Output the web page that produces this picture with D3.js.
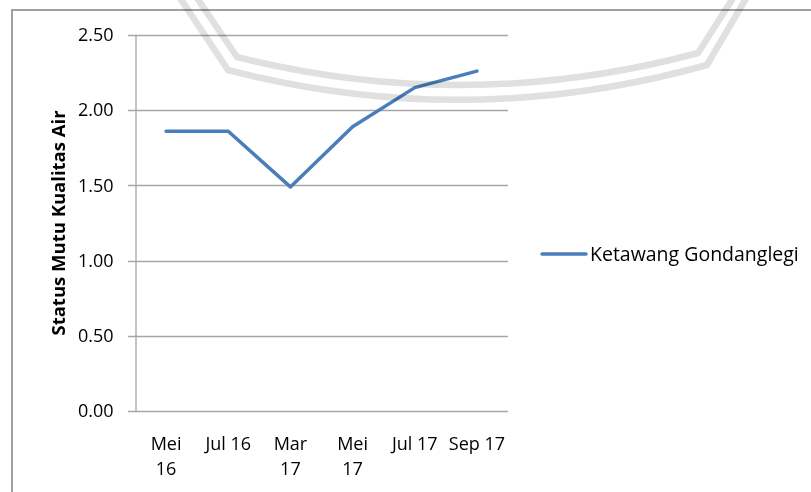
<!DOCTYPE html>
<html>
<head>
<meta charset="utf-8">
<script src="https://cdn.jsdelivr.net/npm/d3@7/dist/d3.min.js"></script>
<style>
  html, body { margin: 0; padding: 0; background: #fff; }
  svg { display: block; }
  text { font-family: "Open Sans", Calibri, sans-serif; fill: #000; }
</style>
</head>
<body>
<svg id="chart" width="811" height="492"></svg>
<script>
// Monthly water quality status, Ketawang Gondanglegi station
const categories = ["Mei 16", "Jul 16", "Mar 17", "Mei 17", "Jul 17", "Sep 17"];
const tickLines = [["Mei", "16"], ["Jul 16"], ["Mar", "17"], ["Mei", "17"], ["Jul 17"], ["Sep 17"]];
const values = [1.86, 1.86, 1.49, 1.89, 2.15, 2.26];
const yTicks = [0, 0.5, 1.0, 1.5, 2.0, 2.5];
const seriesName = "Ketawang Gondanglegi";
const yTitle = "Status Mutu Kualitas Air";

const svg = d3.select("#chart");
const plot = { left: 135, right: 508, top: 35, bottom: 411 };
const lineColor = "#4a7ebb";
const gridColor = "#a6a6a6";
const font = "'Open Sans', Calibri, sans-serif";

// outer chart frame
svg.append("rect")
  .attr("x", 12).attr("y", 10)
  .attr("width", 820).attr("height", 500)
  .attr("fill", "none").attr("stroke", "#a0a0a0").attr("stroke-width", 2);

const x = d3.scaleBand().domain(categories).range([plot.left, plot.right]);
const y = d3.scaleLinear().domain([0, 2.5]).range([plot.bottom, plot.top]);

// horizontal gridlines
svg.append("g").selectAll("line").data(yTicks).join("line")
  .attr("x1", plot.left - 7).attr("x2", plot.right)
  .attr("y1", d => Math.round(y(d)) + 0.5).attr("y2", d => Math.round(y(d)) + 0.5)
  .attr("stroke", gridColor).attr("stroke-width", 1.3);

// y axis with labels
const yAxis = d3.axisLeft(y).tickValues(yTicks).tickFormat(d3.format(".2f")).tickSize(0).tickPadding(22);
const gy = svg.append("g").attr("transform", `translate(${plot.left + 0.5},0)`).call(yAxis);
gy.select(".domain").attr("stroke", gridColor).attr("stroke-width", 1.3);
gy.selectAll("text").attr("font-size", 18).attr("font-family", font).attr("fill", "#000");

// x axis labels (wrapped)
const gx = svg.append("g");
categories.forEach((c, i) => {
  const cx = x(c) + x.bandwidth() / 2;
  const t = gx.append("text")
    .attr("x", cx)
    .attr("y", 450)
    .attr("text-anchor", "middle")
    .attr("font-size", 18);
  tickLines[i].forEach((ln, j) => {
    t.append("tspan").attr("x", cx).attr("dy", j === 0 ? 0 : 25).text(ln);
  });
});

// y axis title
svg.append("text")
  .attr("transform", "translate(65,223) rotate(-90)")
  .attr("text-anchor", "middle")
  .attr("font-size", 18.5).attr("font-weight", "bold")
  .text(yTitle);

// series line
const line = d3.line()
  .x((d, i) => x(categories[i]) + x.bandwidth() / 2)
  .y(d => y(d));
svg.append("path").datum(values)
  .attr("d", line)
  .attr("fill", "none").attr("stroke", lineColor)
  .attr("stroke-width", 3.5).attr("stroke-linejoin", "round").attr("stroke-linecap", "round");

// legend
const lg = svg.append("g").attr("transform", "translate(542,254)");
lg.append("line").attr("x1", 0).attr("x2", 44).attr("y1", 0).attr("y2", 0)
  .attr("stroke", lineColor).attr("stroke-width", 3.5).attr("stroke-linecap", "round");
lg.append("text").attr("x", 48).attr("y", 7).attr("font-size", 19.5).text(seriesName);

// faint watermark arcs laid over the page
const wm = svg.append("g").attr("fill", "none").attr("stroke", "#e0e0e0")
  .attr("stroke-width", 6.5).style("mix-blend-mode", "multiply");
wm.append("path").attr("d", "M195,-5 L237,57 Q467,115 698,53 L735,-5");
wm.append("path").attr("d", "M178,-5 L228,70 Q467,132 707,65 L748,-5");
</script>
</body>
</html>
